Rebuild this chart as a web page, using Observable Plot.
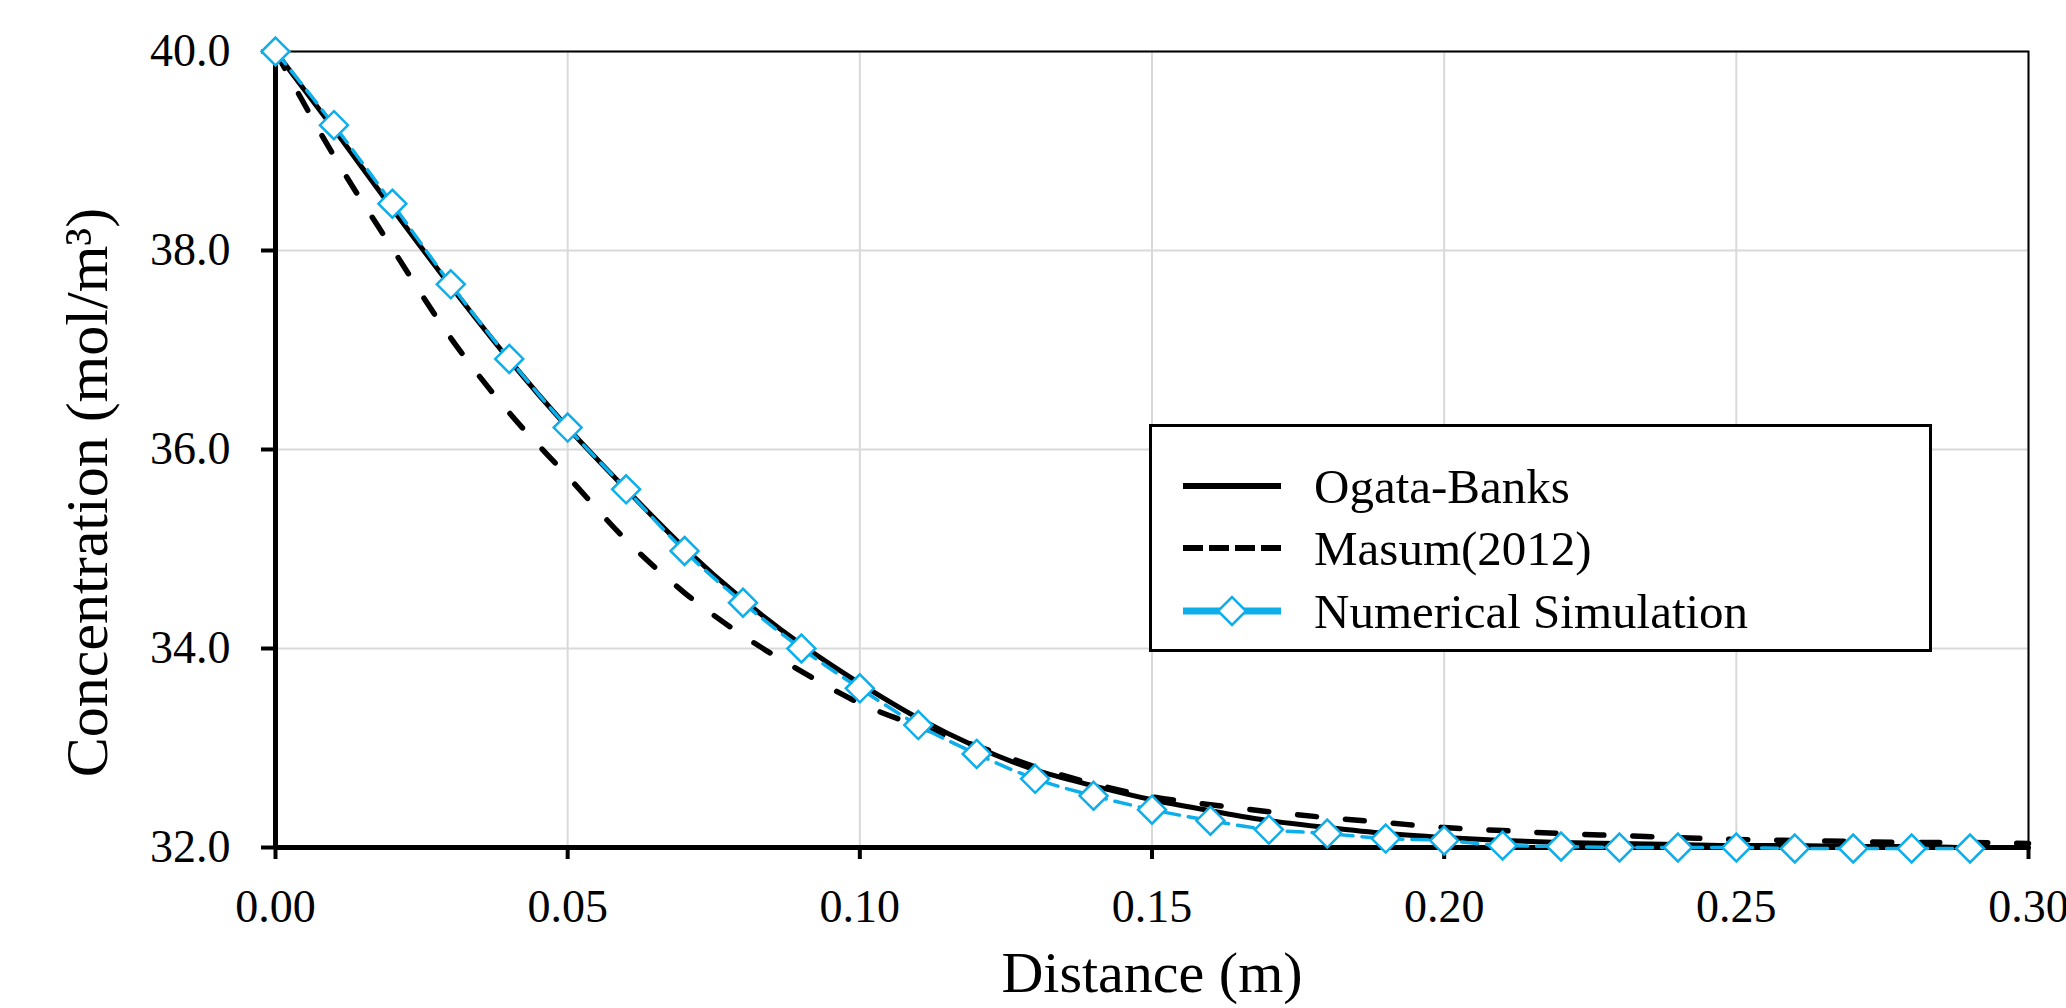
<!DOCTYPE html>
<html>
<head>
<meta charset="utf-8">
<script src="https://cdn.jsdelivr.net/npm/d3@7"></script>
<script src="https://cdn.jsdelivr.net/npm/@observablehq/plot@0.6"></script>
<style>
  html, body { margin: 0; padding: 0; background: #fff; }
  #wrap { position: relative; width: 2066px; height: 1008px; overflow: hidden; }
  #legend { position: absolute; left: 1149px; top: 424px; }
</style>
</head>
<body>
<div id="wrap"></div>
<script>
// ---- data ----
const distance = [0.00,0.01,0.02,0.03,0.04,0.05,0.06,0.07,0.08,0.09,0.10,0.11,0.12,0.13,0.14,0.15,
                  0.16,0.17,0.18,0.19,0.20,0.21,0.22,0.23,0.24,0.25,0.26,0.27,0.28,0.29,0.30];
const ogataBanks = [40.00,39.22,38.42,37.64,36.90,36.22,35.60,35.01,34.49,34.04,33.65,33.30,33.01,32.78,32.62,32.48,
                    32.37,32.27,32.20,32.14,32.10,32.07,32.05,32.04,32.03,32.02,32.02,32.01,32.01,32.00,32.00];
const masum2012 = [40.00,38.95,38.02,37.12,36.37,35.73,35.09,34.56,34.13,33.77,33.45,33.22,33.02,32.81,32.64,32.51,
                   32.43,32.36,32.30,32.25,32.20,32.17,32.14,32.12,32.10,32.08,32.07,32.06,32.05,32.05,32.04];
const simDistance = [0.00,0.01,0.02,0.03,0.04,0.05,0.06,0.07,0.08,0.09,0.10,0.11,0.12,0.13,0.14,0.15,
                     0.16,0.17,0.18,0.19,0.20,0.21,0.22,0.23,0.24,0.25,0.26,0.27,0.28,0.29];
const numericalSimulation = [40.00,39.26,38.47,37.66,36.91,36.22,35.60,34.98,34.46,34.00,33.60,33.23,32.94,32.69,32.52,32.38,
                             32.27,32.18,32.14,32.09,32.07,32.02,32.01,32.00,32.00,32.00,31.99,31.99,31.99,31.99];
const xTicks = [0.00, 0.05, 0.10, 0.15, 0.20, 0.25, 0.30];
const yTicks = [32, 34, 36, 38, 40];
const seriesNames = ["Ogata-Banks", "Masum(2012)", "Numerical Simulation"];
const xLabel = "Distance (m)";
const yLabel = "Concentration (mol/m³)";

// ---- tables ----
const ogata = distance.map((d, i) => ({x: d, y: ogataBanks[i]}));
const masum = distance.map((d, i) => ({x: d, y: masum2012[i]}));
const sim = simDistance.map((d, i) => ({x: d, y: numericalSimulation[i]}));

const FONT = '"Liberation Serif", "Times New Roman", Times, serif';
const CYAN = "#0eaeea";

const chart = Plot.plot({
  width: 2066,
  height: 1008,
  marginTop: 51,
  marginBottom: 161,
  marginLeft: 275,
  marginRight: 38,
  style: {fontFamily: FONT, background: "white", color: "black", overflow: "visible"},
  x: {domain: [0, 0.30]},
  y: {domain: [32, 40]},
  marks: [
    Plot.gridX(xTicks, {stroke: "#d9d9d9", strokeOpacity: 1, strokeWidth: 2}),
    Plot.gridY(yTicks, {stroke: "#d9d9d9", strokeOpacity: 1, strokeWidth: 2}),
    Plot.frame({stroke: "black", strokeWidth: 2}),
    Plot.axisX(xTicks, {tickSize: 12, tickPadding: 30, strokeWidth: 4, fontSize: 46,
                        tickFormat: d3.format(".2f"), label: null}),
    Plot.axisY(yTicks, {tickSize: 14, tickPadding: 31, strokeWidth: 4, fontSize: 46,
                        tickFormat: d3.format(".1f"), label: null}),
    Plot.ruleX([0], {stroke: "black", strokeWidth: 5}),
    Plot.ruleY([32], {stroke: "black", strokeWidth: 5}),
    Plot.line(masum, {x: "x", y: "y", curve: "monotone-x", stroke: "black", strokeWidth: 5.5,
                      strokeDasharray: "19 29", strokeLinecap: "round"}),
    Plot.line(ogata, {x: "x", y: "y", curve: "monotone-x", stroke: "black", strokeWidth: 5}),
    Plot.line(sim, {x: "x", y: "y", curve: "monotone-x", stroke: CYAN, strokeWidth: 3.5,
                    strokeDasharray: "16 9"}),
    Plot.dot(sim, {x: "x", y: "y", symbol: "diamond2", r: 12.6, fill: "white",
                   stroke: CYAN, strokeWidth: 2.5}),
    Plot.text([xLabel], {text: d => d, frameAnchor: "bottom", lineAnchor: "middle", textAnchor: "middle",
                         dy: 126, fontSize: 58}),
    Plot.text([yLabel], {text: d => d, frameAnchor: "left", lineAnchor: "middle", textAnchor: "middle",
                         rotate: -90, dx: -188, dy: 43, fontSize: 60})
  ]
});

const wrap = document.getElementById("wrap");
wrap.appendChild(chart);

// ---- legend ----
const lw = 783, lh = 228;
const legend = d3.create("svg").attr("id", "legend").attr("width", lw).attr("height", lh)
  .style("font-family", FONT);
legend.append("rect").attr("x", 1.5).attr("y", 1.5).attr("width", lw - 3).attr("height", lh - 3)
  .attr("fill", "white").attr("stroke", "black").attr("stroke-width", 3);
const rowsY = [62, 124, 187];
const x0 = 34, x1 = 132;
legend.append("line").attr("x1", x0).attr("x2", x1).attr("y1", rowsY[0]).attr("y2", rowsY[0])
  .attr("stroke", "black").attr("stroke-width", 6);
legend.append("line").attr("x1", x0).attr("x2", x1).attr("y1", rowsY[1]).attr("y2", rowsY[1])
  .attr("stroke", "black").attr("stroke-width", 6).attr("stroke-dasharray", "20 6");
legend.append("line").attr("x1", x0).attr("x2", x1).attr("y1", rowsY[2]).attr("y2", rowsY[2])
  .attr("stroke", CYAN).attr("stroke-width", 7);
legend.append("path").attr("transform", `translate(${(x0 + x1) / 2},${rowsY[2]})`)
  .attr("d", d3.symbol(d3.symbolDiamond2, Math.PI * 12.6 * 12.6)())
  .attr("fill", "white").attr("stroke", CYAN).attr("stroke-width", 2.5);
seriesNames.forEach((name, i) => {
  legend.append("text").attr("x", 165).attr("y", rowsY[i]).attr("dy", "0.35em")
    .attr("font-size", 49).attr("fill", "black").text(name);
});
wrap.appendChild(legend.node());
</script>
</body>
</html>
